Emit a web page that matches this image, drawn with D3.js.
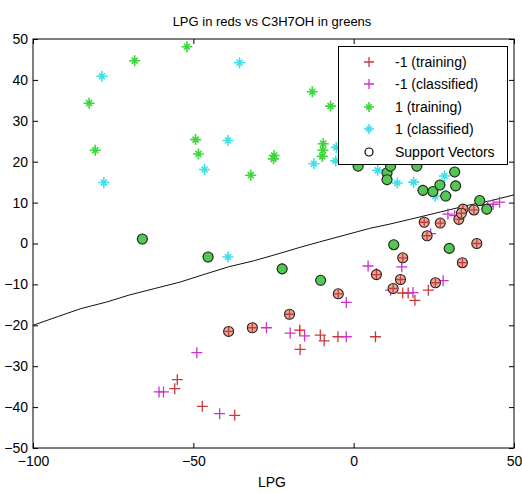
<!DOCTYPE html>
<html>
<head>
<meta charset="utf-8">
<script src="https://cdn.jsdelivr.net/npm/d3@7"></script>
<style>
  body { margin: 0; background: #fff; }
  svg text { font-family: "Liberation Sans", Arial, sans-serif; }
</style>
</head>
<body>
<div id="chart"></div>
<script>
// Data
const redTraining = [
    [-55.0, -33.3], [-55.8, -35.5], [-47.2, -39.8], [-37.1, -42.0],
    [-16.7, -25.9], [-10.4, -22.4], [-9.2, -23.8],
    [-4.9, -22.8], [6.8, -22.8], [15.3, -12.1], [17.0, -12.1], [19.1, -13.9],
    [23.3, -11.4]
];
const redBright = [[-16.8, -21.2]];
const redSupport = [
    [-39.0, -21.5], [-31.6, -20.6], [-20.0, -17.3], [-4.8, -12.3], [7.1, -7.6],
    [12.3, -11.0], [14.6, -8.8], [15.3, -3.5], [25.5, -9.6], [22.0, 5.2],
    [22.9, 1.9], [27.0, 5.0], [32.8, 5.9], [33.9, -4.7], [38.4, 0.0],
    [37.5, 8.2], [34.1, 8.4], [33.6, 7.4]
];
const redClassified = [
    [-60.7, -36.3], [-59.3, -36.3], [-48.9, -26.7], [-41.8, -41.6], [-27.2, -20.6],
    [-19.8, -21.9], [-15.3, -22.6], [-2.3, -22.8], [-2.3, -14.4], [4.5, -5.5],
    [7.1, -7.4], [15.0, -5.7], [11.5, -11.4], [18.5, -12.0], [27.9, -9.1],
    [24.0, 2.4], [29.4, 7.2], [31.5, 6.8], [40.3, 9.4], [41.8, 9.1],
    [43.5, 9.6], [45.5, 10.1]
];
const greenTraining = [
    [-52.0, 48.1], [-68.3, 44.7], [-82.5, 34.3], [-80.6, 22.8], [-49.3, 25.4],
    [-48.4, 21.9], [-32.1, 16.7], [-24.8, 21.5], [-25.0, 20.7], [-12.9, 37.1],
    [-7.2, 33.6], [-9.5, 24.4], [-9.6, 22.8], [-9.8, 21.3]
];
const greenSupport = [
    [-65.9, 1.1], [-45.4, -3.3], [-22.3, -6.2], [-10.3, -9.0], [1.4, 18.9],
    [10.4, 17.3], [10.4, 15.6], [11.5, 18.9], [19.7, 18.9], [21.6, 13.0],
    [24.7, 12.7], [26.9, 14.3], [28.7, 11.6], [31.5, 17.5], [31.8, 14.1],
    [12.5, -0.3], [29.8, -1.2], [39.3, 10.5], [41.5, 8.4]
];
const greenClassified = [
    [-78.5, 40.9], [-77.9, 14.9], [-35.6, 44.2], [-39.2, 25.2], [-46.5, 18.1],
    [-39.2, -3.3], [-12.4, 19.5], [-5.6, 20.2], [-5.4, 23.5], [7.5, 17.9],
    [13.6, 14.8], [18.7, 15.0], [25.4, 11.6], [28.3, 16.5], [28.9, 11.8]
];
// decision boundary (contour line)
const boundaryX = [-100, -92, -85, -77, -70, -62, -54, -46, -39, -31, -23, -17, -10.6, -3, 5, 11, 17.5, 27, 36, 43, 50];
const boundaryY = [-20, -17.8, -15.9, -14.3, -12.6, -11.0, -9.4, -7.4, -5.7, -4.2, -2.4, -1.0, 0.4, 2.0, 3.7, 4.7, 5.9, 7.7, 9.4, 10.5, 11.9];

const xTicks = [-100, -50, 0, 50];
const yTicks = [-50, -40, -30, -20, -10, 0, 10, 20, 30, 40, 50];
const legendLabels = ['-1 (training)', '-1 (classified)', '1 (training)', '1 (classified)', 'Support Vectors'];

const width = 522, height = 493;
const margin = { left: 33, right: 8, top: 39, bottom: 45 };

const svg = d3.select('#chart').append('svg')
    .attr('width', width)
    .attr('height', height);

const x = d3.scaleLinear().domain([-100, 50]).range([margin.left, width - margin.right]);
const y = d3.scaleLinear().domain([-50, 50]).range([height - margin.bottom, margin.top]);

const colors = {
    red: '#c83a3a',
    brightRed: '#ee1111',
    magenta: '#cc33cc',
    green: '#3ad83a',
    cyan: '#3ee0e8',
    greenFill: '#52c852',
    redFill: '#e6aa96'
};

// Axes (MATLAB style: ticks inside, box all round)
const tickLen = 5;
svg.append('g')
    .attr('transform', `translate(0,${y(-50)})`)
    .call(d3.axisBottom(x).tickValues(xTicks).tickSizeInner(-tickLen).tickSizeOuter(0).tickPadding(8))
    .call(g => g.select('.domain').remove());
svg.append('g')
    .attr('transform', `translate(0,${y(50)})`)
    .call(d3.axisTop(x).tickValues(xTicks).tickSizeInner(-tickLen).tickSizeOuter(0).tickFormat(''))
    .call(g => g.select('.domain').remove());
svg.append('g')
    .attr('transform', `translate(${x(-100)},0)`)
    .call(d3.axisLeft(y).tickValues(yTicks).tickSizeInner(-tickLen).tickSizeOuter(0).tickPadding(5))
    .call(g => g.select('.domain').remove());
svg.append('g')
    .attr('transform', `translate(${x(50)},0)`)
    .call(d3.axisRight(y).tickValues(yTicks).tickSizeInner(-tickLen).tickSizeOuter(0).tickFormat(''))
    .call(g => g.select('.domain').remove());

svg.selectAll('.tick text').attr('font-size', 14).attr('fill', '#000')
    .attr('font-family', '"Liberation Sans", Arial, sans-serif');
svg.selectAll('.tick line').attr('stroke', '#000');

svg.append('rect')
    .attr('x', x(-100)).attr('y', y(50))
    .attr('width', x(50) - x(-100)).attr('height', y(-50) - y(50))
    .attr('fill', 'none').attr('stroke', '#000').attr('stroke-width', 1);

// Boundary line
const line = d3.line().x(d => x(d[0])).y(d => y(d[1]));
svg.append('path')
    .datum(boundaryX.map((v, i) => [v, boundaryY[i]]))
    .attr('d', line)
    .attr('fill', 'none')
    .attr('stroke', '#111')
    .attr('stroke-width', 1);

// Marker helpers
function plus(g, cx, cy, color, r) {
    g.append('path')
        .attr('d', `M${cx - r},${cy}H${cx + r}M${cx},${cy - r}V${cy + r}`)
        .attr('stroke', color).attr('stroke-width', 1.3).attr('fill', 'none');
}
function star(g, cx, cy, color, r) {
    const s = r * 0.55;
    g.append('path')
        .attr('d', `M${cx - r},${cy}H${cx + r}M${cx},${cy - r}V${cy + r}` +
            `M${cx - s},${cy - s}L${cx + s},${cy + s}M${cx - s},${cy + s}L${cx + s},${cy - s}`)
        .attr('stroke', color).attr('stroke-width', 1.6).attr('fill', 'none');
}

const marks = svg.append('g');

greenTraining.forEach(d => star(marks, x(d[0]), y(d[1]), colors.green, 5.5));
greenSupport.forEach(d => star(marks, x(d[0]), y(d[1]), colors.green, 5.5));
greenClassified.forEach(d => star(marks, x(d[0]), y(d[1]), colors.cyan, 5.5));
redTraining.forEach(d => plus(marks, x(d[0]), y(d[1]), colors.red, 5.5));
redBright.forEach(d => plus(marks, x(d[0]), y(d[1]), colors.brightRed, 5.5));
redClassified.forEach(d => plus(marks, x(d[0]), y(d[1]), colors.magenta, 5.5));

// Support vectors
greenSupport.forEach(d => {
    marks.append('circle')
        .attr('cx', x(d[0])).attr('cy', y(d[1])).attr('r', 5)
        .attr('fill', colors.greenFill).attr('stroke', '#222').attr('stroke-width', 1.1);
});
redSupport.forEach(d => {
    marks.append('circle')
        .attr('cx', x(d[0])).attr('cy', y(d[1])).attr('r', 5)
        .attr('fill', colors.redFill).attr('stroke', '#222').attr('stroke-width', 1.1);
    plus(marks, x(d[0]), y(d[1]), colors.red, 4.5);
});

// Legend
const legend = svg.append('g');
legend.append('rect')
    .attr('x', 338.5).attr('y', 46.5).attr('width', 169).attr('height', 118)
    .attr('fill', '#fff').attr('stroke', '#000').attr('stroke-width', 1);
const legendY = [62, 84, 107, 129, 152];
legendLabels.forEach((label, i) => {
    const ly = legendY[i];
    if (i === 0) plus(legend, 369, ly, colors.red, 5);
    if (i === 1) plus(legend, 369, ly, colors.magenta, 5);
    if (i === 2) star(legend, 369, ly, colors.green, 5);
    if (i === 3) star(legend, 369, ly, colors.cyan, 5);
    if (i === 4) {
        legend.append('circle').attr('cx', 369).attr('cy', ly).attr('r', 4)
            .attr('fill', 'none').attr('stroke', '#000').attr('stroke-width', 1.2);
    }
    legend.append('text')
        .attr('x', 395).attr('y', ly + 5)
        .attr('font-size', 14)
        .text(label);
});

// Title and axis label
svg.append('text')
    .attr('x', 272).attr('y', 26)
    .attr('text-anchor', 'middle')
    .attr('font-size', 13)
    .text('LPG in reds vs C3H7OH in greens');
svg.append('text')
    .attr('x', 272).attr('y', 487)
    .attr('text-anchor', 'middle')
    .attr('font-size', 14)
    .text('LPG');
</script>
</body>
</html>
